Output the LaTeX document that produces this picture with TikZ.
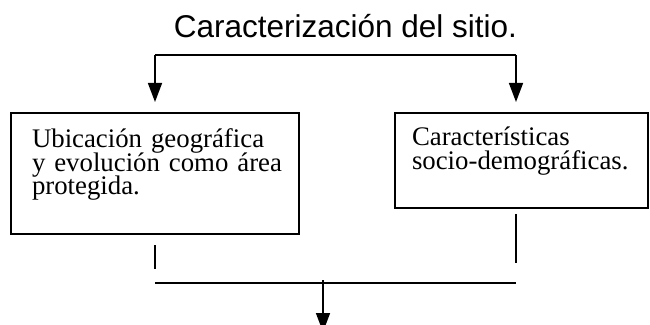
\documentclass[tikz,border=0pt]{standalone}
\usepackage{fontspec}
\setmainfont{Liberation Serif}
\newfontfamily\arialf{Liberation Sans}
\usetikzlibrary{arrows.meta}
\newcommand\myboxfont{\fontsize{26.8pt}{23.3pt}\selectfont\lineskiplimit=-100pt\relax}
\begin{document}
\begin{tikzpicture}[x=1pt,y=1pt,
  boxnode/.style={draw,line width=1.6pt,align=left,font=\myboxfont,anchor=north},
  conn/.style={line width=1.5pt},
  arr/.style={line width=1.5pt,-{Triangle[length=19pt,width=14pt]}}]
\useasboundingbox (0,0) rectangle (650,324);
\clip (0,0) rectangle (650,324);
\node[anchor=base,font=\arialf\fontsize{31.5pt}{36pt}\selectfont] (title) at (345.5,286) {Caracterización del sitio.};
\node[boxnode,text width=246pt,inner xsep=21pt,inner ysep=15pt] (lbox) at (155,212)
  {\mbox{\rule{0pt}{20pt}Ubicación geográfica}\\\mbox{y evolución como área}\\\mbox{protegida.\rule[-24.4pt]{0pt}{0pt}}};
\node[boxnode,text width=219pt,inner xsep=17pt,inner ysep=13pt] (rbox) at (521.5,212)
  {\mbox{\rule{0pt}{20pt}Características}\\\mbox{socio-demográficas.\rule[-25.7pt]{0pt}{0pt}}};
\coordinate (tl) at (155,269);
\coordinate (tr) at (516,269);
\coordinate (ls1) at (155,79);
\coordinate (ls2) at (155,55);
\coordinate (rs1) at (516,110);
\coordinate (rs2) at (516,61);
\coordinate (bl) at (155,41);
\coordinate (br) at (516,41);
\coordinate (bm) at (323,44);
\coordinate (bend) at (323,-8);
\draw[conn] (tl) -- (tr);
\draw[arr,shorten >=10pt] (tl) -- (tl |- lbox.north);
\draw[arr,shorten >=10pt] (tr) -- (tr |- rbox.north);
\draw[conn] (ls1) -- (ls2);
\draw[conn] (rs1) -- (rs2);
\draw[conn] (bl) -- (br);
\draw[arr] (bm) -- (bend);
\end{tikzpicture}
\end{document}
